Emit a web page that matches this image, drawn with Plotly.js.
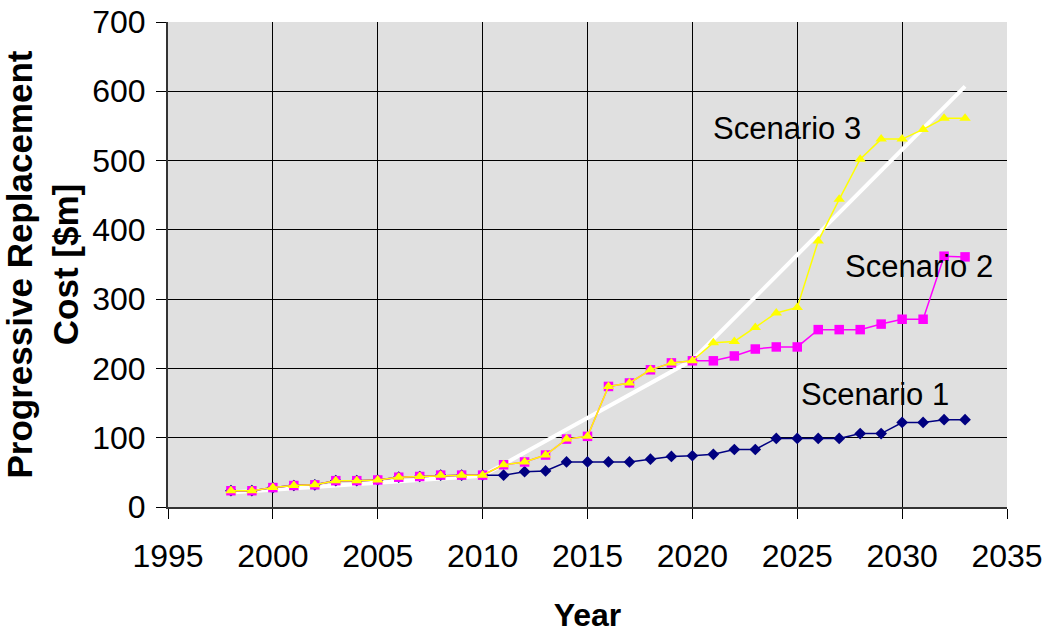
<!DOCTYPE html>
<html>
<head>
<meta charset="utf-8">
<script src="https://cdn.plot.ly/plotly-3.0.1.min.js"></script>
<style>
  html, body { margin: 0; padding: 0; background: #ffffff; }
  #chart { width: 1052px; height: 636px; }
</style>
</head>
<body>
<div id="chart"></div>
<script>
// Years of the replacement programme
const years = [1998, 1999, 2000, 2001, 2002, 2003, 2004, 2005, 2006, 2007, 2008, 2009,
               2010, 2011, 2012, 2013, 2014, 2015, 2016, 2017, 2018, 2019, 2020, 2021,
               2022, 2023, 2024, 2025, 2026, 2027, 2028, 2029, 2030, 2031, 2032, 2033];

// Progressive replacement cost, $m
const scenario1 = [23.5, 23.5, 28, 31, 32, 38, 38, 39, 43, 44, 46, 46,
                   46, 46, 51, 52, 65, 65, 65, 65, 69, 73, 74, 76,
                   83, 83, 99, 99, 99, 99, 106, 106, 122, 122, 126, 126];

const scenario2 = [23.5, 23.5, 28, 31, 32, 38, 38, 39, 43, 44, 46, 46,
                   46, 61, 65, 75, 98, 102, 174, 179, 198, 208, 211, 211,
                   218, 228, 231, 231, 256, 256, 256, 264, 271, 271, 362, 361];

const scenario3 = [23.5, 23.5, 28, 31, 32, 38, 38, 39, 43, 44, 46, 46,
                   46, 61, 65, 75, 98, 102, 174, 179, 198, 208, 211, 237,
                   239, 259, 280, 288, 384, 444, 502, 531, 531, 545, 561, 561];

// Overall trend line
const trendYears = [1998, 2010, 2020, 2033];
const trendCost = [21, 45, 212, 607];

// Scenario labels
const labelText = ['Scenario 3', 'Scenario 2', 'Scenario 1'];
const labelYear = [2024.5, 2030.8, 2028.7];
const labelCost = [547, 347, 162];

const FONT = 'Liberation Sans, Arial, sans-serif';

const traces = [
  {
    x: trendYears, y: trendCost, mode: 'lines', name: 'Trend',
    line: { color: '#ffffff', width: 4 }, hoverinfo: 'skip'
  },
  {
    x: years, y: scenario1, mode: 'lines+markers', name: 'Scenario 1',
    line: { color: '#000080', width: 1.5 },
    marker: { symbol: 'diamond', size: 9, color: '#000080' }
  },
  {
    x: years, y: scenario2, mode: 'lines+markers', name: 'Scenario 2',
    line: { color: '#ff00ff', width: 1.5 },
    marker: { symbol: 'square', size: 9.5, color: '#ff00ff' }
  },
  {
    x: years, y: scenario3, mode: 'lines+markers', name: 'Scenario 3',
    line: { color: '#ffff00', width: 1.5 },
    marker: { symbol: 'triangle-up', size: 10, color: '#ffff00' }
  }
];

const annotations = labelText.map((t, i) => ({
  x: labelYear[i], y: labelCost[i], xref: 'x', yref: 'y',
  text: t, showarrow: false, xanchor: 'center', yanchor: 'middle',
  font: { family: FONT, size: 31, color: '#000000' }
}));

const layout = {
  width: 1052, height: 636,
  margin: { l: 168, r: 45, t: 22, b: 129 },
  paper_bgcolor: '#ffffff',
  plot_bgcolor: '#e0e0e0',
  showlegend: false,
  font: { family: FONT, color: '#000000' },
  xaxis: {
    range: [1995, 2035], tick0: 1995, dtick: 5,
    showgrid: true, gridcolor: '#000000', gridwidth: 1,
    zeroline: false,
    showline: true, linecolor: '#333333', linewidth: 2,
    ticks: 'outside', ticklen: 10, tickcolor: '#000000', tickwidth: 1,
    ticklabelstandoff: 10,
    tickfont: { family: FONT, size: 32, color: '#000000' },
    title: { text: '<b>Year</b>', font: { family: FONT, size: 32, color: '#000000' }, standoff: 30 }
  },
  yaxis: {
    range: [0, 700], tick0: 0, dtick: 100,
    showgrid: true, gridcolor: '#000000', gridwidth: 1,
    zeroline: false,
    showline: true, linecolor: '#333333', linewidth: 2,
    ticks: 'outside', ticklen: 10, tickcolor: '#000000', tickwidth: 1,
    ticklabelstandoff: 4,
    tickfont: { family: FONT, size: 32, color: '#000000' },
    title: { text: '<b>Progressive Replacement<br>Cost [$m]</b>', font: { family: FONT, size: 35, color: '#000000' }, standoff: 12 }
  },
  annotations: annotations
};

Plotly.newPlot('chart', traces, layout, { staticPlot: true, displayModeBar: false });
</script>
</body>
</html>
